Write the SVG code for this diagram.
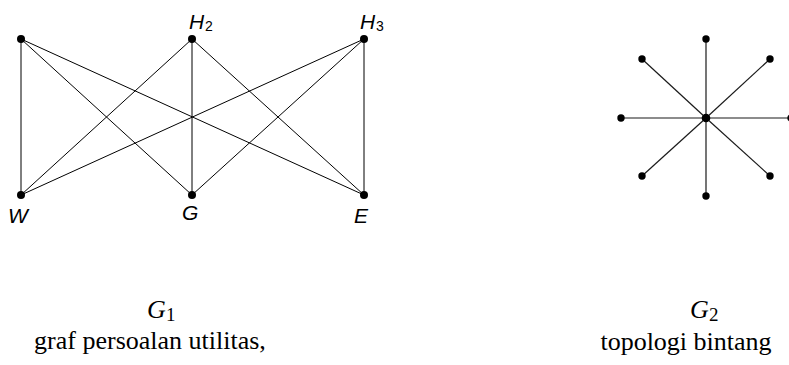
<svg xmlns="http://www.w3.org/2000/svg" width="789" height="365" viewBox="0 0 789 365">
<style>
.e{stroke:#000;stroke-width:1;fill:none}
.s{stroke:#1a1a1a;stroke-width:1.2;fill:none}
.n{fill:#000}
.lb{font-family:"Liberation Sans",Arial,sans-serif;font-style:italic;font-size:21px;fill:#000}
.sub{font-family:"Liberation Sans",Arial,sans-serif;font-size:14px;fill:#000}
.cap{font-family:"Liberation Serif","Times New Roman",serif;font-size:26px;fill:#000}
.capi{font-family:"Liberation Serif","Times New Roman",serif;font-style:italic;font-size:26px;fill:#000}
.caps{font-family:"Liberation Serif","Times New Roman",serif;font-size:19px;fill:#000}
</style>
<rect width="789" height="365" fill="#fff"/>
<g id="connectors">
<g id="g1-edges">
<line class="e" x1="21" y1="39" x2="21" y2="195"/>
<line class="e" x1="21" y1="39" x2="192" y2="195"/>
<line class="e" x1="21" y1="39" x2="364" y2="195"/>
<line class="e" x1="192" y1="39" x2="21" y2="195"/>
<line class="e" x1="192" y1="39" x2="192" y2="195"/>
<line class="e" x1="192" y1="39" x2="364" y2="195"/>
<line class="e" x1="364" y1="39" x2="21" y2="195"/>
<line class="e" x1="364" y1="39" x2="192" y2="195"/>
<line class="e" x1="364" y1="39" x2="364" y2="195"/>
</g>
<g id="g2-edges">
<line class="s" x1="706" y1="118" x2="706" y2="39"/>
<line class="s" x1="706" y1="118" x2="706" y2="196"/>
<line class="s" x1="706" y1="118" x2="621" y2="118"/>
<line class="s" x1="706" y1="118" x2="791" y2="118"/>
<line class="s" x1="706" y1="118" x2="642" y2="59"/>
<line class="s" x1="706" y1="118" x2="770" y2="59"/>
<line class="s" x1="706" y1="118" x2="642" y2="176"/>
<line class="s" x1="706" y1="118" x2="770" y2="176"/>
</g>
</g>
<g id="n1"><circle class="n" cx="21" cy="39" r="4"/></g>
<g id="nH2"><circle class="n" cx="192" cy="39" r="4"/><text class="lb" x="189" y="29">H</text><text class="sub" x="205" y="31">2</text></g>
<g id="nH3"><circle class="n" cx="364" cy="39" r="4"/><text class="lb" x="360" y="29">H</text><text class="sub" x="376" y="31">3</text></g>
<g id="nW"><circle class="n" cx="21" cy="195" r="4"/><text class="lb" x="8" y="223">W</text></g>
<g id="nG"><circle class="n" cx="192" cy="195" r="4"/><text class="lb" x="182" y="220">G</text></g>
<g id="nE"><circle class="n" cx="364" cy="195" r="4"/><text class="lb" x="354" y="223">E</text></g>
<g id="s0"><circle class="n" cx="706" cy="118" r="4.3"/></g>
<g id="s1"><circle class="n" cx="706" cy="39" r="3.7"/></g>
<g id="s2"><circle class="n" cx="706" cy="196" r="3.7"/></g>
<g id="s3"><circle class="n" cx="621" cy="118" r="3.7"/></g>
<g id="s4"><circle class="n" cx="791" cy="118" r="3.7"/></g>
<g id="s5"><circle class="n" cx="642" cy="59" r="3.7"/></g>
<g id="s6"><circle class="n" cx="770" cy="59" r="3.7"/></g>
<g id="s7"><circle class="n" cx="642" cy="176" r="3.7"/></g>
<g id="s8"><circle class="n" cx="770" cy="176" r="3.7"/></g>
<g id="cap1"><text class="capi" x="147" y="318">G</text><text class="caps" x="166" y="321">1</text><text class="cap" x="150" y="349" text-anchor="middle">graf persoalan utilitas,</text></g>
<g id="cap2"><text class="capi" x="690" y="318">G</text><text class="caps" x="709" y="321">2</text><text class="cap" x="686" y="350" text-anchor="middle">topologi bintang</text></g>
</svg>
